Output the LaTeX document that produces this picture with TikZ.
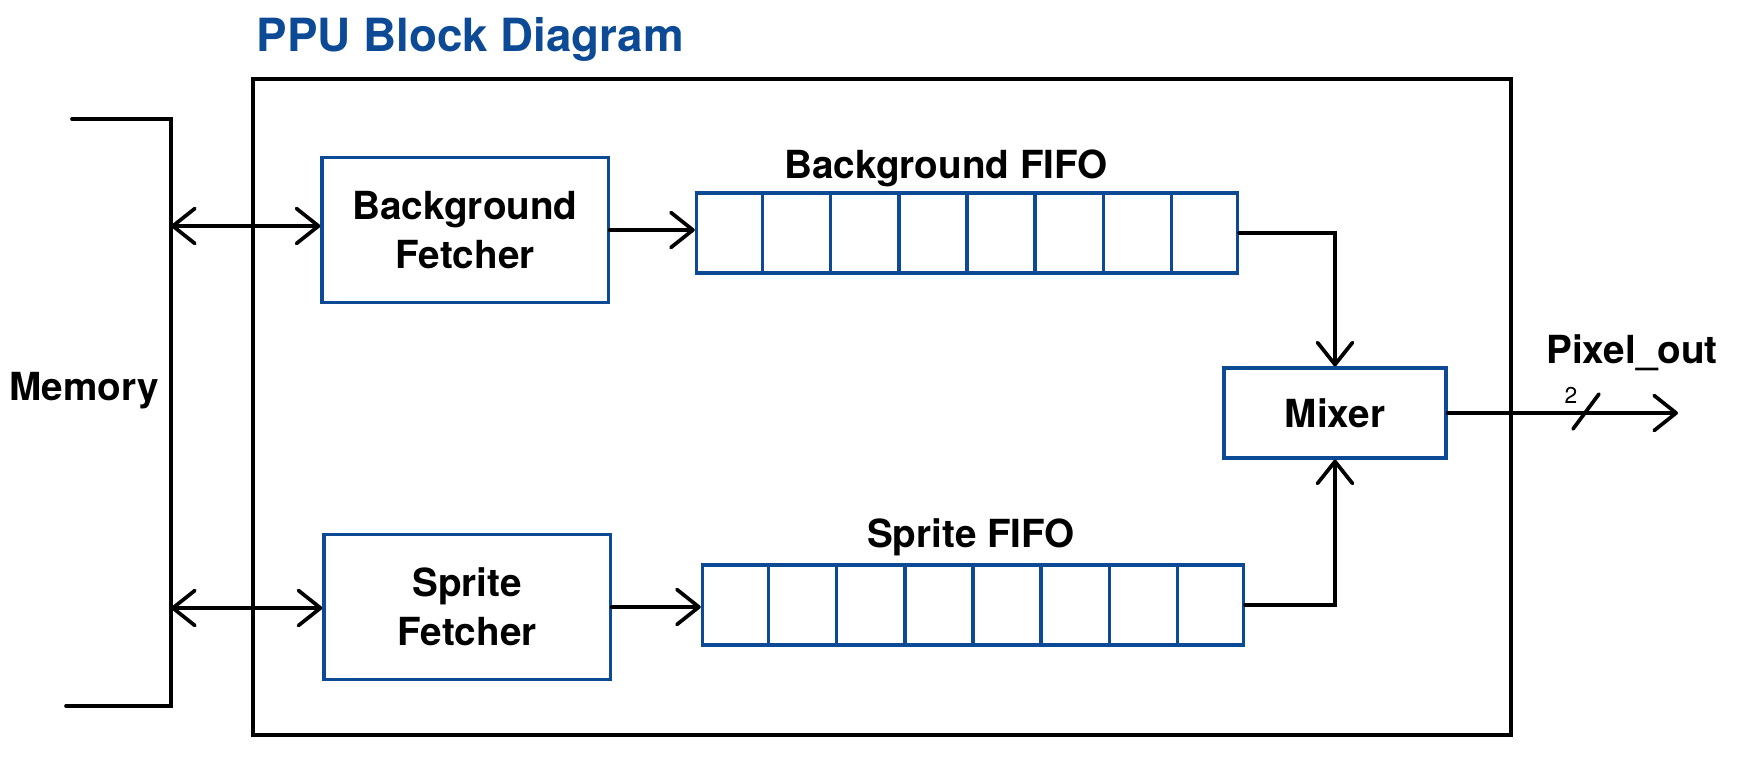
\documentclass[tikz,border=0pt]{standalone}
\usepackage{fontspec}
\setmainfont{TeX Gyre Heros}
\usepackage{tikz}
\usetikzlibrary{arrows.meta,calc}
\definecolor{ppublue}{RGB}{12,74,150}
\tikzset{
  blk/.style={draw=ppublue,line width=0.9pt,minimum width=2.86cm,minimum height=1.45cm,
    inner sep=0pt,align=center,font=\fontsize{11}{14}\selectfont\bfseries},
  fifo/.style={draw=ppublue,line width=0.9pt,minimum width=5.41cm,minimum height=0.8cm,inner sep=0pt},
  cell/.style={draw=ppublue,line width=0.9pt},
  lbl/.style={inner sep=0pt,font=\fontsize{11}{13}\selectfont\bfseries},
  wire/.style={line width=1.05pt,line cap=round},
  tip/.style={-{Straight Barb[length=0.22cm,width=0.35cm,round]}},
  bitip/.style={{Straight Barb[length=0.22cm,width=0.35cm,round]}-{Straight Barb[length=0.22cm,width=0.35cm,round]}}
}

\begin{document}
\begin{tikzpicture}[x=0.01cm,y=-0.01cm]
    \useasboundingbox (0,0) rectangle (1744,781);
    \node[anchor=base west,inner sep=0pt,text=ppublue,font=\fontsize{13}{15}\selectfont\bfseries]
      (title) at (256,51) {PPU Block Diagram};
    % outer block and memory bracket
    \draw[line width=1pt] (253,79) rectangle (1511,735);
    \draw[wire] (72,119) -- (171,119) -- (171,706) -- (66,706);
    \node[lbl,anchor=base west] (mem) at (9,400) {Memory};
    % fetchers, fifos, mixer
    \node[blk] (bgf) at (465,230) {Background\\Fetcher};
    \node[blk] (spf) at (467,607) {Sprite\\Fetcher};
    \node[fifo] (bgq) at (967,233) {};
    \node[fifo] (spq) at (973,605) {};
    \foreach \q in {bgq,spq}
      \foreach \i in {1,...,7}
        \draw[cell] ($(\q.north west)!\i/8!(\q.north east)$) -- ($(\q.south west)!\i/8!(\q.south east)$);
    \node[lbl,anchor=base] (bgql) at (946,178) {Background FIFO};
    \node[lbl,anchor=base] (spql) at (971,547) {Sprite FIFO};
    \node[blk,minimum width=2.22cm,minimum height=0.9cm] (mix) at (1335,413) {Mixer};
    % connections
    \coordinate (mtop) at (171,226);
    \coordinate (mbot) at (171,608);
    \draw[wire,bitip] (mtop) -- (mtop -| bgf.west);
    \draw[wire,bitip] (mbot) -- (mbot -| spf.west);
    \draw[wire,tip] (bgf.east) -- (bgf.east -| bgq.west);
    \draw[wire,tip] (spf.east) -- (spf.east -| spq.west);
    \draw[wire,tip] (bgq.east) -| (mix.north);
    \draw[wire,tip] (spq.east) -| (mix.south);
    \coordinate (pxo) at (1678,413);
    \draw[wire,tip] (mix.east) -- (pxo);
    \coordinate (slsh) at (1586,412);
    \draw[wire] ($(slsh)+(-13,17)$) -- ($(slsh)+(13,-18)$);
    \node[inner sep=0pt,font=\fontsize{6.5}{8}\selectfont] (bw) at (1571,395) {2};
    \node[lbl,anchor=base] (pxl) at (1632,363) {Pixel\_out};
\end{tikzpicture}
\end{document}
